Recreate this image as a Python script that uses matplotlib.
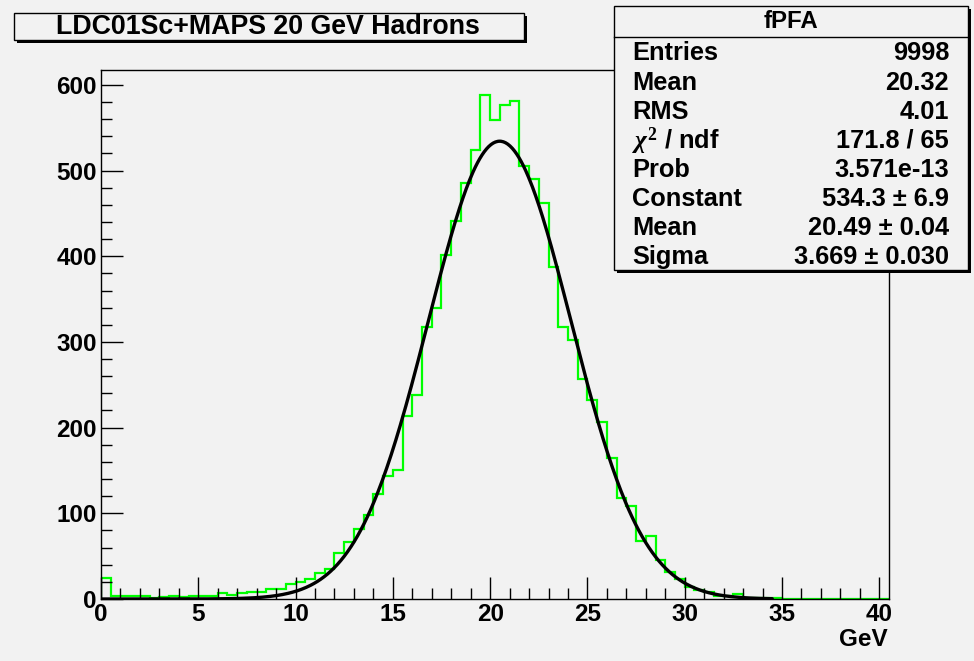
import numpy as np
import matplotlib
matplotlib.use("Agg")
import matplotlib.pyplot as plt
from matplotlib.patches import Rectangle
from matplotlib.ticker import MultipleLocator

# ---------------- data ----------------
bin_width = 0.5
x_min, x_max = 0.0, 40.5
counts = [
    25, 3, 3, 3, 3, 1, 2, 4, 2, 4,            # 0 - 5
    3, 3, 7, 5, 7, 8, 8, 12, 12, 17,          # 5 - 10
    20, 23, 30, 35, 54, 67, 82, 98, 123, 144, # 10 - 15
    151, 214, 238, 317, 340, 402, 441, 485, 524, 588,  # 15 - 20
    559, 577, 581, 505, 490, 462, 387, 318, 302, 257,  # 20 - 25
    232, 207, 165, 118, 108, 68, 74, 45, 31, 23,       # 25 - 30
    14, 10, 8, 3, 4, 6, 1, 1, 1, 1,                    # 30 - 35
    0, 0, 0, 0, 0, 0, 0, 0, 0, 0,                      # 35 - 40
    0,                                                 # 40 - 40.5
]
fit_constant = 534.3
fit_mean = 20.49
fit_sigma = 3.669
fit_range = (0.0, 34.5)

title = "LDC01Sc+MAPS 20 GeV Hadrons"
x_label = "GeV"
stats_name = "fPFA"
stats_labels = ["Entries", "Mean", "RMS", r"$\chi^{2}$ / ndf", "Prob",
                "Constant", "Mean", "Sigma"]
stats_values = ["9998", "20.32", "4.01", "171.8 / 65", "3.571e-13",
                "534.3 \u00b1 6.9", "20.49 \u00b1 0.04", "3.669 \u00b1 0.030"]

# ---------------- figure ----------------
W, H = 974, 661
BG = "#f2f2f2"
plt.rcParams["font.family"] = ["Liberation Sans", "DejaVu Sans"]
plt.rcParams["font.weight"] = "bold"
plt.rcParams["mathtext.fontset"] = "custom"
plt.rcParams["mathtext.rm"] = "Liberation Serif"
plt.rcParams["mathtext.it"] = "Liberation Serif:italic"

fig = plt.figure(figsize=(W / 100, H / 100), dpi=100, facecolor=BG)

def fx(px):
    return px / W

def fy(py):
    return 1 - py / H

ax_l, ax_r, ax_t, ax_b = 101, 889, 70, 599
ax = fig.add_axes([fx(ax_l), fy(ax_b), fx(ax_r) - fx(ax_l), fy(ax_t) - fy(ax_b)])
ax.set_facecolor(BG)

edges = np.arange(len(counts) + 1) * bin_width + x_min
ax.stairs(counts, edges, color="#00ff00", linewidth=1.6, baseline=0)

xf = np.linspace(fit_range[0], fit_range[1], 600)
yf = fit_constant * np.exp(-0.5 * ((xf - fit_mean) / fit_sigma) ** 2)
ax.plot(xf, yf, color="black", linewidth=2.4, solid_capstyle="round")

ax.set_xlim(x_min, x_max)
ax.set_ylim(0, max(counts) * 1.05)

ax.xaxis.set_major_locator(MultipleLocator(5))
ax.xaxis.set_minor_locator(MultipleLocator(1))
ax.yaxis.set_major_locator(MultipleLocator(100))
ax.yaxis.set_minor_locator(MultipleLocator(20))
ax.tick_params(which="both", direction="in", top=False, right=False,
               width=1, labelsize=17.5, pad=3)
ax.tick_params(which="major", length=16)
ax.tick_params(which="minor", length=8)
for lab in ax.get_xticklabels() + ax.get_yticklabels():
    lab.set_fontweight("bold")
for s in ax.spines.values():
    s.set_linewidth(1.0)
    s.set_color("black")

fig.text(fx(888), fy(640), x_label, ha="right", va="center",
         fontsize=17.5, fontweight="bold")

# ---------------- boxes ----------------
def shadow_box(x0, y0, x1, y1, sh=3):
    fig.patches.append(Rectangle((fx(x0 + sh), fy(y1 + sh)), fx(x1) - fx(x0),
                                 fy(y0) - fy(y1), transform=fig.transFigure,
                                 facecolor="black", edgecolor="black", lw=0,
                                 zorder=5))
    fig.patches.append(Rectangle((fx(x0), fy(y1)), fx(x1) - fx(x0),
                                 fy(y0) - fy(y1), transform=fig.transFigure,
                                 facecolor=BG, edgecolor="black", lw=1.0,
                                 zorder=6))

shadow_box(14, 13, 524, 40)
fig.text(fx(268), fy(27), title, ha="center", va="center", fontsize=19.3,
         fontweight="bold", zorder=10)

shadow_box(614, 6, 968, 270)
fig.add_artist(plt.Line2D([fx(614), fx(968)], [fy(37), fy(37)],
                          transform=fig.transFigure, color="black", lw=1.0,
                          zorder=7))
fig.text(fx(791), fy(22), stats_name, ha="center", va="center", fontsize=17.3,
         fontweight="bold", zorder=10)
row_y = [53, 83, 112, 141, 170, 199, 228, 257]
for yy, lab, val in zip(row_y, stats_labels, stats_values):
    fig.text(fx(632), fy(yy), lab, ha="left", va="center", fontsize=18.3,
             fontweight="bold", zorder=10)
    fig.text(fx(949), fy(yy), val, ha="right", va="center", fontsize=18.3,
             fontweight="bold", zorder=10)

fig.savefig("out.png", dpi=100, facecolor=BG)
